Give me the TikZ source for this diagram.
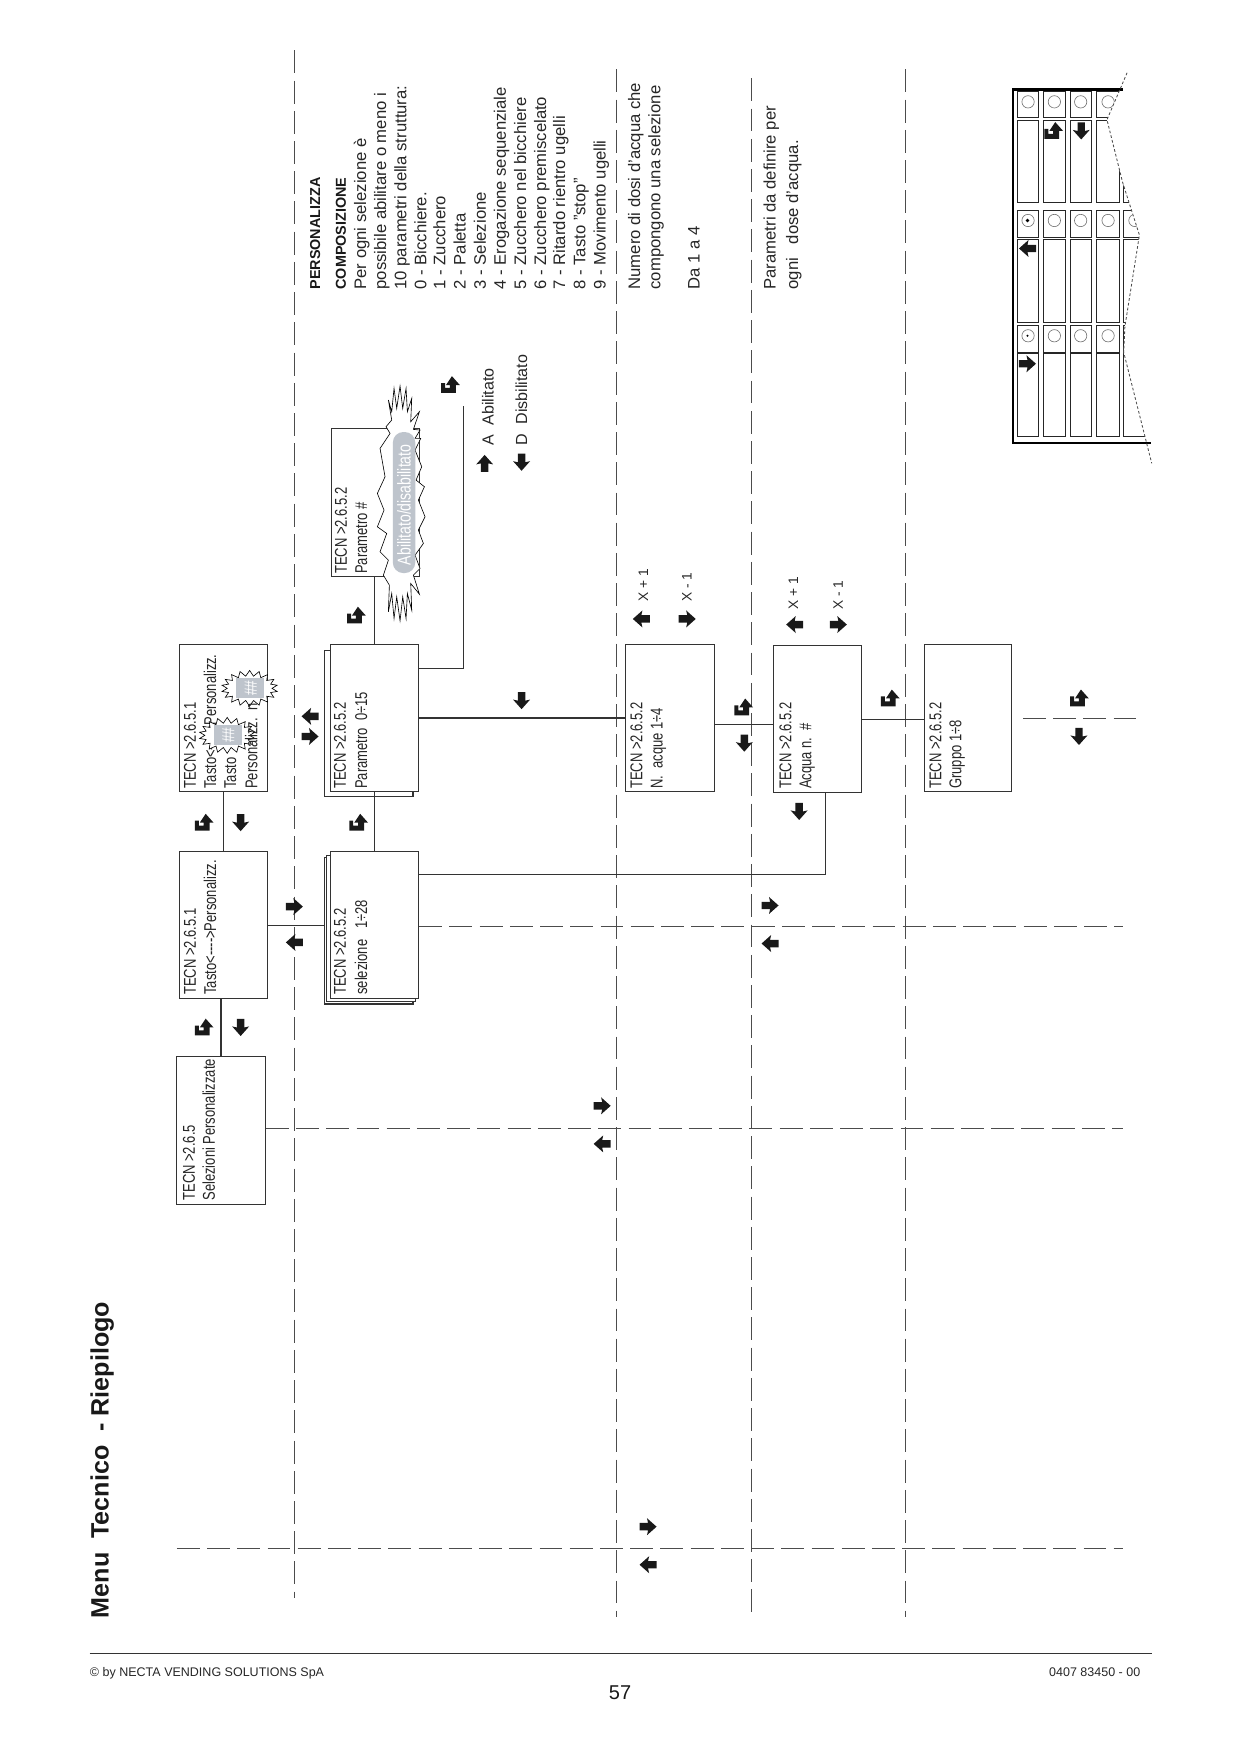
\documentclass[tikz,border=0pt]{standalone}
\usepackage{fontspec}
\setmainfont{Liberation Sans}
\newfontfamily\condf[FakeStretch=0.76]{Liberation Sans}
\definecolor{pillgrey}{RGB}{190,196,204}
\newcommand{\bx}[5]{\node[boxn,minimum width={(#4-#2)*0.537pt},minimum height={(#5-#3)*0.537pt}] (#1) at ({(#2+#4)/2},{(#3+#5)/2}) {};}
\newcommand{\plainarw}[3]{\fill[arw,shift={(#1,#2)},rotate=#3,scale=0.95] (0,-8)--(8,1)--(3.5,0)--(3.5,8)--(-3.5,8)--(-3.5,0)--(-8,1)--cycle;}
\newcommand{\retarw}[3]{\fill[arw,shift={(#1,#2)},rotate=#3,scale=0.88] (2,-9)--(10,0)--(6,0)--(6,8)--(-9,8)--(-9,-2)--(-5,-2)--(-5,3)--(0,3)--(0,0)--(-4,0)--cycle;}
\newcommand{\burstshape}[5]{\draw[burstline] plot[smooth cycle,tension=0,domain=0:350,samples=36] ({#1+(#3+#5*mod(round(\x/10),2))*cos(\x)},{#2+(#4+#5*mod(round(\x/10),2))*sin(\x)});}
\tikzset{
 boxn/.style={draw=black!80,line width=0.55pt,fill=white,inner sep=0pt},
 conn/.style={draw=black!80,line width=0.55pt},
 dsh/.style={draw=black!70,line width=0.6pt,dash pattern=on 11pt off 3.5pt},
 arw/.style={fill=black!90},
 burstline/.style={draw=black,line width=0.3pt,fill=white},
 pilltxt/.style={rotate=90,inner sep=0pt,text=white,font=\condf\fontsize{8.9}{10}\selectfont},
 ctxt/.style={rotate=90,anchor=base west,inner sep=0pt,text=black!85,font=\condf\fontsize{8.2}{10}\selectfont},
 rtxt/.style={rotate=90,anchor=base west,inner sep=0pt,text=black!85,font=\fontsize{8}{10}\selectfont},
 stxt/.style={rotate=90,anchor=base west,inner sep=0pt,text=black!85,font=\fontsize{7.7}{9}\selectfont},
 xtxt/.style={rotate=90,anchor=base west,inner sep=0pt,text=black!85,font=\fontsize{6.6}{8}\selectfont},
 btxt/.style={rotate=90,anchor=base west,inner sep=0pt,text=black!90,font=\bfseries\fontsize{6.9}{8}\selectfont},
 ftxt/.style={inner sep=0pt,text=black!85,font=\fontsize{6}{7}\selectfont},
 cell/.style={draw=black!85,line width=0.5pt},
 knob/.style={draw=black!55,line width=0.3pt},
}
\begin{document}
\begin{tikzpicture}[x=0.537pt,y=-0.537pt]
\path[use as bounding box] (0,0) rectangle (1108,1568);
% title and footer
\node[rotate=90,anchor=base west,inner sep=0pt,text=black!90,font=\bfseries\fontsize{12.05}{15}\selectfont] (title) at (97,1446) {Menu\ \ Tecnico\ \ - Riepilogo};
\coordinate (rl) at (80,1477); \coordinate (rr) at (1029,1477);
\draw[black!80,line width=0.5pt] (rl)--(rr);
\node[ftxt,anchor=west] (foot1) at (80,1495) {© by NECTA VENDING SOLUTIONS SpA};
\node[ftxt,anchor=west] (foot2) at (937,1494) {0407 83450 - 00};
\node[inner sep=0pt,text=black!90,font=\fontsize{9.6}{11}\selectfont] (pagen) at (554,1512) {57};
% vertical and horizontal dashed lines
\foreach \vx/\va/\vb in {263/45/1428,551/62/1445,671.4/70/1445,809/62/1445}
 \draw[dsh] (\vx,\va)--(\vx,\vb);
\draw[dsh] (158,1383.4)--(1003,1383.4);
% boxes
\bx{sa}{158}{944}{237}{1076}
\bx{sb}{160}{761}{239}{892}
\bx{sc}{160}{576}{239}{707}
\bx{sd3}{290}{766}{369}{897}
\bx{sd2}{292}{764}{371}{895}
\bx{sd}{295}{761}{374}{892}
\bx{se2}{290}{581}{369}{712}
\bx{se}{295}{576}{374}{707}
\bx{sf}{296}{383}{375}{515}
\bx{sg}{559}{576}{638}{707}
\bx{sh}{691}{577}{770}{708}
\bx{si}{826}{576}{904}{707}
% connectors
\draw[conn] (sa.north)--(sa.north |- sb.south);
\draw[conn] (sb.north)--(sb.north |- sc.south);
\draw[conn] (sb.east)--(sb.east -| sd3.west);
\draw[conn] (sd.north)--(sd.north |- se.south);
\draw[conn] (se.north)--(se.north |- sf.south);
\draw[conn] (se.east)--(se.east -| sg.west);
\draw[conn] ([yshift=-3pt]sg.east)--([yshift=-3pt]sg.east -| sh.west);
\draw[conn] (sh.east)--(sh.east -| si.west);
\draw[conn] ([yshift=24.4pt]sd.east) -| ([xshift=3.8pt]sh.south);
\coordinate (eend) at (414,363);
\draw[conn] ([yshift=23.9pt]se.east) -| (eend);
\coordinate (adend) at (1003,1008);
\coordinate (ddend) at (1003,828);
\draw[dsh] (sa.east |- adend)--(adend);
\draw[dsh] (sd.east |- ddend)--(ddend);
\coordinate (il) at (914,642); \coordinate (ir) at (1015,642);
\draw[dsh] (il)--(ir);
% box texts
\node[ctxt] (ta1) at (174,1073) {TECN >2.6.5};
\node[ctxt] (ta2) at (192,1073) {Selezioni Personalizzate};
\node[ctxt] (tb1) at (175,889) {TECN >2.6.5.1};
\node[ctxt] (tb2) at (193,889) {Tasto<---->Personalizz.};
\node[ctxt] (tc1) at (175,705) {TECN >2.6.5.1};
\node[ctxt] (tc2) at (193,705) {Tasto<---->Personalizz.};
\node[ctxt] (tc3) at (211,705) {Tasto};
\burstshape{223}{615}{20}{11}{5}
\burstshape{203}{657}{20}{11}{5}
\fill[pillgrey] (211,606) rectangle (236,624);
\fill[pillgrey] (191,648) rectangle (216,666);
\node[pilltxt,font=\condf\fontsize{8.5}{9}\selectfont] (h1) at (224,615) {\#\#};
\node[pilltxt,font=\condf\fontsize{8.5}{9}\selectfont] (h2) at (204,657) {\#\#};
\node[ctxt] (tc4) at (230,705) {Personalizz.\ \ n};
\node[ctxt] (td1) at (309,889) {TECN >2.6.5.2};
\node[ctxt] (td2) at (328,889) {selezione\ \ \ 1÷28};
\node[ctxt] (te1) at (309,705) {TECN >2.6.5.2};
\node[ctxt] (te2) at (328,705) {Parametro\ \ 0÷15};
\node[ctxt] (tf1) at (310,513) {TECN >2.6.5.2};
\node[ctxt] (tf2) at (328,513) {Parametro \#};
\node[ctxt] (tg1) at (574,705) {TECN >2.6.5.2};
\node[ctxt] (tg2) at (592,705) {N.\ \ acque 1÷4};
\node[ctxt] (th1) at (707,705) {TECN >2.6.5.2};
\node[ctxt] (th2) at (725,705) {Acqua n.\ \ \#};
\node[ctxt] (ti1) at (841,705) {TECN >2.6.5.2};
\node[ctxt] (ti2) at (859,705) {Gruppo 1÷8};
% big burst
\begin{scope}[shift={(330.6,330.6)},scale=0.298]
\draw[burstline] (72,55)--(80,115)--(90,48)--(98,115)--(108,55)--(112,125)--(125,85)--(122,155)--(148,125)--(130,178)--(150,180)--(135,205)--(152,205)--(135,240)--(155,290)--(138,330)--(163,350)--(145,390)--(165,440)--(145,480)--(160,520)--(135,555)--(150,595)--(130,615)--(148,672)--(122,640)--(125,720)--(112,670)--(108,745)--(98,680)--(90,752)--(80,680)--(72,745)--(65,670)--(55,725)--(58,645)--(40,615)--(55,570)--(30,545)--(50,490)--(22,470)--(42,420)--(22,370)--(45,320)--(30,235)--(60,190)--(48,170)--(65,150)--(55,90)--(65,125)--cycle;
\end{scope}
\fill[rounded corners=5pt,fill=pillgrey] (351,386) rectangle (371,512);
\node[pilltxt] (pill) at (361,451) {Abilitato/disabilitato};
% right column texts
\node[btxt] (p0) at (286,259) {PERSONALIZZA};
\node[btxt] (p1) at (309,259) {COMPOSIZIONE};
\foreach \tx/\tt in {327/Per ogni selezione è,345/possibile abilitare o meno i,363/10 parametri della struttura:,381/0 - Bicchiere.,398/1 - Zucchero,416/2 - Paletta,434/3 - Selezione,452/4 - Erogazione sequenziale,470/5 - Zucchero nel bicchiere,488/6 - Zucchero premiscelato,505/7 - Ritardo rientro ugelli,523/8 - Tasto "stop",541/9 - Movimento ugelli,572/Numero di dosi d'acqua che,590/compongono una selezione,625/Da 1 a 4,693/Parametri da definire per,713/ogni\ \ \ dose d'acqua.}
 \node[rtxt] at (\tx,259) {\tt};
\node[stxt] (lA) at (441,398) {A\ \ Abilitato};
\node[stxt] (lD) at (471,398) {D\ \ Disbilitato};
\node[xtxt] (x1) at (579,538) {X + 1};
\node[xtxt] (x2) at (618,538) {X - 1};
\node[xtxt] (x3) at (713,545) {X + 1};
\node[xtxt] (x4) at (753,545) {X - 1};
% arrows
\retarw{182}{918}{0}\retarw{182}{735}{0}\retarw{320}{735}{0}\retarw{318}{550}{0}\retarw{402}{344}{0}
\retarw{664}{632}{0}\retarw{795}{624}{0}\retarw{964}{624}{0}
\plainarw{215}{918}{180}\plainarw{215}{735}{180}\plainarw{466}{626}{180}\plainarw{665}{664}{180}\plainarw{714}{725}{180}\plainarw{964}{658}{180}
\plainarw{263}{810}{270}\plainarw{538}{988}{270}\plainarw{579}{1364}{270}\plainarw{688}{809}{270}\plainarw{277}{658}{270}\plainarw{614}{553}{270}\plainarw{749}{558}{270}
\plainarw{263}{842}{90}\plainarw{538}{1022}{90}\plainarw{579}{1398}{90}\plainarw{688}{843}{90}\plainarw{277}{640}{90}\plainarw{573}{553}{90}\plainarw{710}{558}{90}
\plainarw{433}{414}{0}\plainarw{466}{413}{180}
% keypad
\foreach \cx/\cxb in {909/928,932/952,956/975,980/1000,1004/1024}{
 \foreach \ry/\ryb in {82/105,108/181,188/212,214/288,291/315,316/390}
  \draw[cell] (\cx,\ry) rectangle (\cxb,\ryb);
 \foreach \ky in {91,197,300}
  \draw[knob] ({(\cx+\cxb)/2},\ky) circle (5.5);
}
\fill[black] (918,197) circle (1.6); \fill[black] (918,300) circle (1);
\fill[white] (1007,65)--(989,107)--(1003,163)--(1018,210)--(1005,292)--(1004,315)--(1029,414)--(1108,414)--(1108,65)--cycle;
\draw[black,line width=1.2pt] (1003,80)--(905,80)--(905,396)--(1028,396);
\draw[black!70,line width=0.4pt,dash pattern=on 1.3pt off 1pt] (1007,65)--(989,107)--(1003,163)--(1018,210)--(1005,292)--(1004,315)--(1029,414);
\retarw{941}{117}{0}\plainarw{966}{117}{180}\plainarw{918}{222}{90}\plainarw{918}{325}{270}
\end{tikzpicture}
\end{document}
